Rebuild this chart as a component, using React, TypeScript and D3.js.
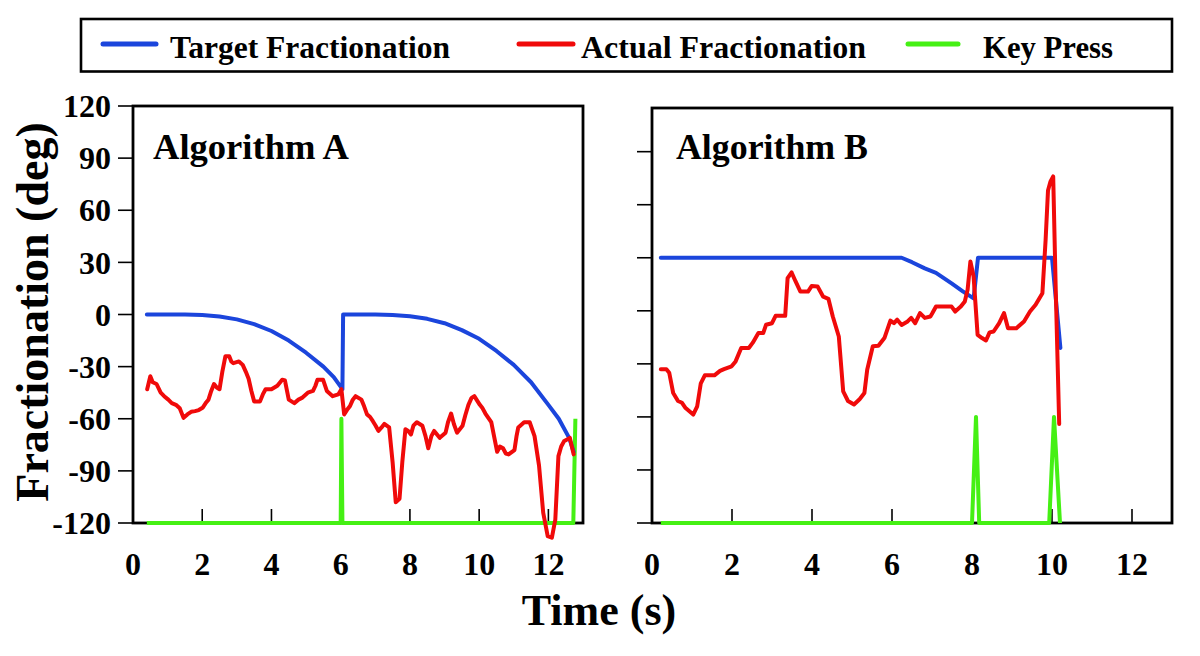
import React from 'react';
import * as d3 from 'd3';

type Pt = [number, number];

// ---------- data ----------
const xTickValues = [0, 2, 4, 6, 8, 10, 12];
const yTickValuesA = [-120, -90, -60, -30, 0, 30, 60, 90, 120];
const yTickValuesB = [-120, -90, -60, -30, 0, 30, 60, 90];

const targetA: Pt[] = [
  [0.4, 0], [1.5, 0], [2.0, -0.3], [2.5, -1.2], [3.0, -2.8], [3.5, -5.5], [4.0, -9.5],
  [4.5, -15], [5.0, -22], [5.5, -30], [5.8, -36], [6.05, -43],
  [6.07, 0], [7.0, 0], [7.5, -0.3], [8.0, -1], [8.5, -2.5], [9.0, -5], [9.5, -9],
  [10.0, -14], [10.5, -21], [11.0, -29], [11.5, -39], [12.0, -52], [12.3, -60],
  [12.6, -71], [12.73, -79],
];

const actualA: Pt[] = [
  [0.41, -43], [0.5, -35.5], [0.57, -39], [0.68, -40], [0.8, -45], [0.9, -47], [1.02, -49],
  [1.12, -51], [1.24, -52], [1.35, -54], [1.46, -59.5], [1.57, -57.5], [1.68, -56], [1.79, -55.6],
  [1.9, -55], [2.01, -53.7], [2.1, -51], [2.18, -49], [2.26, -44], [2.34, -40], [2.42, -42],
  [2.5, -43], [2.58, -33], [2.67, -24], [2.78, -24], [2.84, -27], [2.9, -28], [3.06, -27],
  [3.17, -29], [3.26, -33], [3.34, -37], [3.42, -44], [3.5, -50], [3.67, -50], [3.75, -46],
  [3.83, -43], [4.0, -43], [4.17, -41], [4.31, -37.5], [4.39, -38], [4.5, -49], [4.66, -51],
  [4.78, -49], [4.88, -48], [5.05, -45], [5.2, -44], [5.27, -41], [5.33, -37.5], [5.49, -37.5],
  [5.6, -44], [5.77, -47], [5.93, -46], [6.02, -43], [6.1, -57.5], [6.18, -55], [6.27, -52.7],
  [6.35, -49], [6.43, -47], [6.6, -49], [6.68, -53], [6.76, -57.5], [6.85, -59], [6.93, -61.4],
  [7.01, -64], [7.09, -67], [7.18, -65], [7.26, -63], [7.4, -65], [7.5, -85], [7.59, -108],
  [7.7, -106], [7.78, -85], [7.87, -66], [7.95, -67], [8.03, -69], [8.1, -64], [8.2, -62],
  [8.36, -64], [8.45, -70], [8.53, -77], [8.62, -70], [8.7, -67], [8.86, -71], [9.03, -68],
  [9.1, -62], [9.19, -57], [9.27, -63], [9.36, -68], [9.52, -64], [9.6, -58], [9.69, -52],
  [9.78, -48], [9.86, -47], [10.02, -52], [10.1, -54], [10.18, -57], [10.35, -62], [10.43, -70],
  [10.52, -79], [10.6, -76], [10.69, -77], [10.77, -80], [10.85, -80.5], [11.02, -78],
  [11.08, -70], [11.13, -65], [11.3, -62], [11.46, -62], [11.6, -70], [11.73, -87],
  [11.85, -114], [11.98, -127.5], [12.1, -128.5], [12.2, -118], [12.29, -81.5],
  [12.37, -76], [12.45, -73], [12.62, -71], [12.73, -80.5],
];

const keyA: Pt[] = [
  [0.4, -120], [6.0, -120], [6.02, -60], [6.05, -120], [12.72, -120], [12.78, -60],
];

const targetB: Pt[] = [
  [0.22, 30], [6.24, 30], [6.5, 27.5], [6.82, 24], [7.1, 21.5], [7.49, 15.5], [7.77, 11],
  [8.04, 7], [8.15, 30], [10.0, 30], [10.21, -21],
];

const actualB: Pt[] = [
  [0.22, -33], [0.36, -33], [0.43, -35], [0.53, -46.5], [0.65, -51], [0.75, -52], [0.84, -55],
  [1.03, -58.7], [1.13, -54], [1.22, -41], [1.32, -36.5], [1.56, -36.5], [1.7, -34], [1.8, -33],
  [1.99, -31.4], [2.09, -28.6], [2.23, -21], [2.42, -21], [2.52, -18], [2.66, -12.6],
  [2.78, -12.6], [2.85, -7.9], [3.0, -7], [3.09, -2.8], [3.33, -2.8], [3.39, 18.5], [3.49, 21.7],
  [3.59, 16.6], [3.71, 10.9], [3.9, 10.9], [3.99, 14], [4.14, 13.7], [4.28, 8], [4.41, 6.8],
  [4.52, -3.2], [4.67, -14.5], [4.78, -45.6], [4.9, -51], [5.05, -53], [5.19, -50],
  [5.31, -46.5], [5.38, -33.3], [5.52, -20], [5.66, -19.8], [5.81, -15.4], [5.96, -5.5],
  [6.05, -7], [6.13, -5], [6.24, -8], [6.39, -6], [6.48, -4], [6.58, -7], [6.7, -1.3],
  [6.82, -4], [6.96, -3.2], [7.0, -1.7], [7.1, 2.4], [7.49, 2.4], [7.58, -0.4], [7.72, 2.4],
  [7.82, 5.3], [7.89, 11.9], [7.96, 27.9], [8.04, 19.4], [8.14, -13.6], [8.25, -15.4],
  [8.35, -16.8], [8.44, -12.2], [8.54, -11.7], [8.68, -7], [8.8, -1.3], [8.9, -9.8],
  [9.11, -9.8], [9.3, -6], [9.45, -0.4], [9.59, 3.4], [9.76, 10], [9.84, 40], [9.9, 68],
  [9.96, 73], [10.03, 76], [10.09, 15], [10.18, -64],
];

const keyB: Pt[] = [
  [0.22, -120], [8.0, -120], [8.1, -60], [8.18, -120], [9.93, -120], [10.05, -60], [10.2, -120],
];

const legendItems = [
  { label: 'Target Fractionation', color: '#1b45dc' },
  { label: 'Actual Fractionation', color: '#f00a0a' },
  { label: 'Key Press', color: '#45f014' },
];

// ---------- styling ----------
const FONT = "'Liberation Serif', 'Times New Roman', serif";
const BLUE = legendItems[0].color;
const RED = legendItems[1].color;
const GREEN = legendItems[2].color;

type PanelProps = {
  xRange: [number, number];
  yDomain: [number, number];
  yRange: [number, number];
  yTicks: number[];
  showYLabels: boolean;
  title: string;
  titleX: number;
  titleLen: number;
  target: Pt[];
  actual: Pt[];
  keyPress: Pt[];
};

function Panel(p: PanelProps) {
  const x = d3.scaleLinear().domain([0, 13]).range(p.xRange);
  const y = d3.scaleLinear().domain(p.yDomain).range(p.yRange);
  const line = d3
    .line<Pt>()
    .x((d) => x(d[0]))
    .y((d) => y(d[1]));
  const [x0, x1] = p.xRange;
  const [yb, yt] = p.yRange;
  return (
    <g>
      {p.yTicks.map((t) => (
        <g key={'y' + t}>
          <line x1={x0 - 15} x2={x0} y1={y(t)} y2={y(t)} stroke="#000" strokeWidth={1.6} />
          {p.showYLabels && (
            <text
              x={x0 - 22}
              y={y(t)}
              dy="0.35em"
              textAnchor="end"
              fontFamily={FONT}
              fontWeight="bold"
              fontSize={32}
            >
              {t}
            </text>
          )}
        </g>
      ))}
      {xTickValues.map((t) => (
        <g key={'x' + t}>
          <line x1={x(t)} x2={x(t)} y1={yb} y2={yb - 14} stroke="#000" strokeWidth={1.6} />
          <text
            x={x(t)}
            y={575}
            textAnchor="middle"
            fontFamily={FONT}
            fontWeight="bold"
            fontSize={32}
          >
            {t}
          </text>
        </g>
      ))}
      <rect
        x={x0}
        y={yt}
        width={x1 - x0}
        height={yb - yt}
        fill="none"
        stroke="#000"
        strokeWidth={2.8}
      />
      <text
        x={p.titleX}
        y={159}
        fontFamily={FONT}
        fontWeight="bold"
        fontSize={35}
        textLength={p.titleLen}
        lengthAdjust="spacingAndGlyphs"
      >
        {p.title}
      </text>
      <path d={line(p.keyPress) || ''} fill="none" stroke={GREEN} strokeWidth={4} strokeLinejoin="round" />
      <path d={line(p.target) || ''} fill="none" stroke={BLUE} strokeWidth={4} strokeLinejoin="round" strokeLinecap="round" />
      <path d={line(p.actual) || ''} fill="none" stroke={RED} strokeWidth={4} strokeLinejoin="round" strokeLinecap="round" />
    </g>
  );
}

export default function App() {
  const legendLayout = [
    { lx: [103, 156], tx: 170, len: 280 },
    { lx: [519, 573], tx: 581, len: 285 },
    { lx: [908, 958], tx: 983, len: 130 },
  ];
  return (
    <svg
      width={1200}
      height={656}
      style={{ position: 'absolute', left: 0, top: 0, background: '#fff' }}
    >
      <rect x={0} y={0} width={1200} height={656} fill="#fff" />
      {/* legend */}
      <rect x={81} y={19} width={1091} height={52.5} fill="#fff" stroke="#000" strokeWidth={2.6} />
      {legendItems.map((it, i) => (
        <g key={it.label}>
          <line
            x1={legendLayout[i].lx[0]}
            x2={legendLayout[i].lx[1]}
            y1={44}
            y2={44}
            stroke={it.color}
            strokeWidth={5}
            strokeLinecap="round"
          />
          <text
            x={legendLayout[i].tx}
            y={58}
            fontFamily={FONT}
            fontWeight="bold"
            fontSize={31}
            textLength={legendLayout[i].len}
            lengthAdjust="spacingAndGlyphs"
          >
            {it.label}
          </text>
        </g>
      ))}
      <Panel
        xRange={[133, 583]}
        yDomain={[-120, 120]}
        yRange={[523, 106]}
        yTicks={yTickValuesA}
        showYLabels={true}
        title="Algorithm A"
        titleX={153}
        titleLen={196}
        target={targetA}
        actual={actualA}
        keyPress={keyA}
      />
      <Panel
        xRange={[652, 1172]}
        yDomain={[-120, 114.7]}
        yRange={[523, 108]}
        yTicks={yTickValuesB}
        showYLabels={false}
        title="Algorithm B"
        titleX={676}
        titleLen={192}
        target={targetB}
        actual={actualB}
        keyPress={keyB}
      />
      <text
        transform="translate(48,312) rotate(-90)"
        textAnchor="middle"
        fontFamily={FONT}
        fontWeight="bold"
        fontSize={46}
      >
        Fractionation (deg)
      </text>
      <text x={599} y={625} textAnchor="middle" fontFamily={FONT} fontWeight="bold" fontSize={44}>
        Time (s)
      </text>
    </svg>
  );
}
